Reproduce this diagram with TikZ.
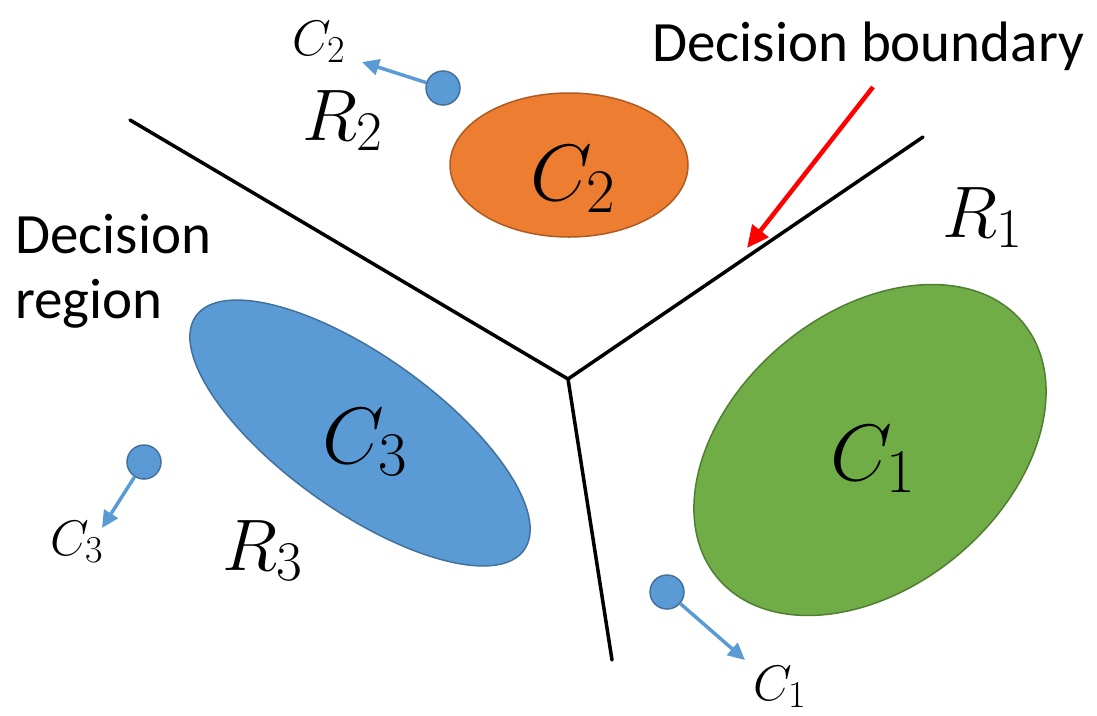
\RequirePackage{fix-cm}
\documentclass[tikz,border=0pt]{standalone}
\usepackage{fontspec}
\newfontfamily\calib{Carlito}
\usetikzlibrary{arrows.meta,shapes.geometric}
\DeclareMathSizes{80}{80}{62}{48}
\DeclareMathSizes{73}{73}{56}{44}
\DeclareMathSizes{50}{50}{38}{30}
\definecolor{cblue}{HTML}{5B9BD5}
\definecolor{cbluedk}{HTML}{41719C}
\definecolor{corange}{HTML}{ED7D31}
\definecolor{corangedk}{HTML}{AE5A21}
\definecolor{cgreen}{HTML}{70AD47}
\definecolor{cgreendk}{HTML}{507E32}
\begin{document}
\begin{tikzpicture}[x=1pt,y=-1pt,
  bnd/.style={line width=3.5pt, line cap=round},
  blob/.style={ellipse, line width=1.5pt, inner sep=0pt},
  dot/.style={circle, fill=cblue, draw=cbluedk, line width=1.5pt, minimum size=34pt, inner sep=0pt},
  ptr/.style={draw=cblue, line width=3.5pt, -{Triangle[length=17pt,width=16pt]}},
  lab/.style={anchor=base west, inner sep=0pt},
  txt/.style={anchor=base west, inner sep=0pt, font=\calib\fontsize{57}{65}\selectfont},
  bigC/.style={lab, font=\fontsize{80}{90}\selectfont},
  bigR/.style={lab, font=\fontsize{73}{80}\selectfont},
  smC/.style={lab, font=\fontsize{50}{56}\selectfont}]
\useasboundingbox (0,0) rectangle (1097,715);

% clusters
\node[blob, fill=corange, draw=corangedk, minimum width=238pt, minimum height=144pt] (e2) at (569,165) {};
\node[blob, fill=cgreen, draw=cgreendk, minimum width=398pt, minimum height=274pt, rotate=40] (e1) at (870,450) {};
\node[blob, fill=cblue, draw=cbluedk, minimum width=403pt, minimum height=155pt, rotate=-35.5] (e3) at (360,433) {};

% decision boundaries
\coordinate (J) at (568,379);
\coordinate (bL) at (130,120);
\coordinate (bR) at (923,137);
\coordinate (bB) at (612,660);
\draw[bnd] (bL) -- (J) -- (bR);
\draw[bnd] (J) -- (bB);

% red pointer
\coordinate (rs) at (873,87);
\coordinate (re) at (747,248);
\draw[red, line width=4.5pt, -{Triangle[length=22pt,width=20pt]}] (rs) -- (re);

% sample points
\node[dot] (d2) at (443,88) {};
\coordinate (a2) at (362,62);
\draw[ptr] (d2) -- (a2);
\node[dot] (d1) at (667,592) {};
\coordinate (a1) at (745,660);
\draw[ptr] (d1) -- (a1);
\node[dot] (d3) at (144,462) {};
\coordinate (a3) at (102,528);
\draw[ptr] (d3) -- (a3);

% texts
\node[txt] (tdb) at (652,61) {Decision boundary};
\node[txt] (tdr1) at (15,253) {Decision};
\node[txt] (tdr2) at (15,318) {region};

\node[bigC] (lc2) at (530,200) {$C_2$};
\node[bigC] (lc1) at (830,480) {$C_1$};
\node[bigC] (lc3) at (322,463) {$C_3$};

\node[bigR] (lr1) at (942,237) {$R_1$};
\node[bigR] (lr2) at (302,140) {$R_2$};
\node[bigR] (lr3) at (222,570) {$R_3$};

\node[smC] (sc2) at (292,55) {$C_2$};
\node[smC] (sc1) at (753,700) {$C_1$};
\node[smC] (sc3) at (50,555) {$C_3$};
\end{tikzpicture}
\end{document}
